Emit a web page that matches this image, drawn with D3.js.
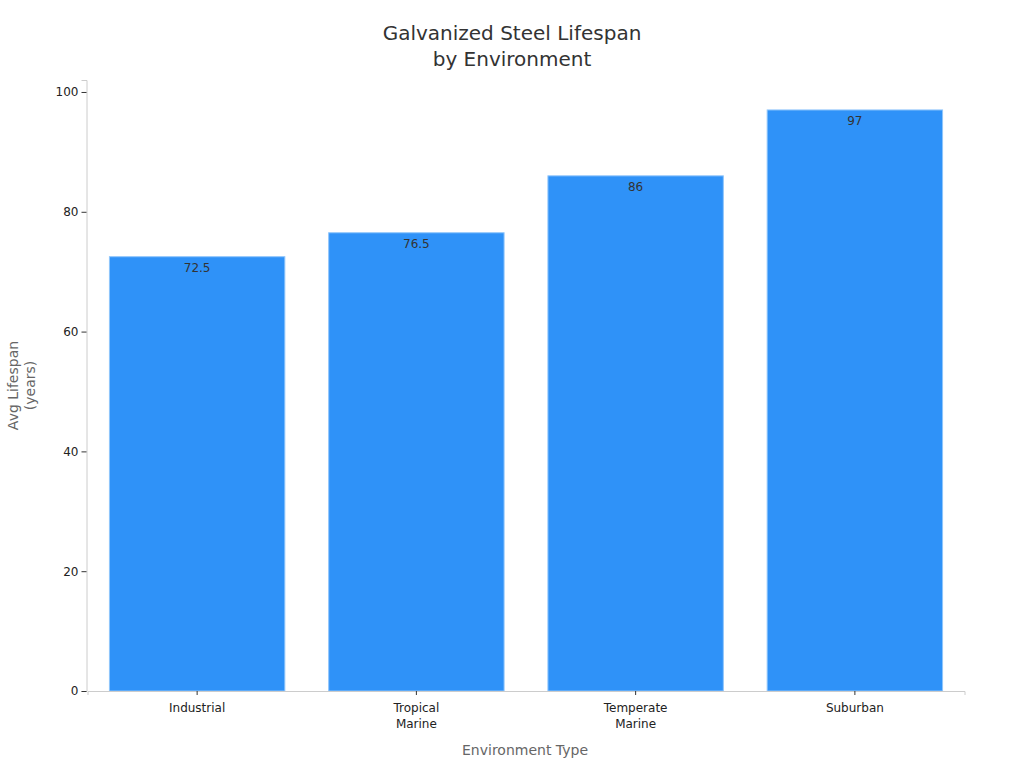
<!DOCTYPE html>
<html>
<head>
<meta charset="utf-8">
<script src="https://cdn.jsdelivr.net/npm/d3@7"></script>
<style>
  body { margin: 0; background: #fff; }
  text { font-family: "DejaVu Sans", sans-serif; }
</style>
</head>
<body>
<svg id="chart" width="1024" height="768"></svg>
<script>
// data
var categories = [["Industrial"], ["Tropical", "Marine"], ["Temperate", "Marine"], ["Suburban"]];
var lifespans = [72.5, 76.5, 86, 97];
var yTicks = [0, 20, 40, 60, 80, 100];

var svg = d3.select("#chart");
var margin = { left: 86.5, right: 60.5, top: 80, bottom: 77 };
var width = 1024, height = 768;

var x = d3.scaleBand()
    .domain(d3.range(categories.length))
    .range([margin.left, width - margin.right])
    .paddingInner(0.2)
    .paddingOuter(0.1);

var y = d3.scaleLinear()
    .domain([0, 102])
    .range([height - margin.bottom, margin.top]);

// title
svg.append("text")
    .attr("x", 512).attr("text-anchor", "middle")
    .attr("fill", "#333").style("font-size", "20px")
    .selectAll("tspan")
    .data(["Galvanized Steel Lifespan", "by Environment"])
    .enter().append("tspan")
    .attr("x", 512)
    .attr("y", function (d, i) { return 40 + i * 26; })
    .text(function (d) { return d; });

// bars
svg.append("g").selectAll("rect")
    .data(lifespans)
    .enter().append("rect")
    .attr("x", function (d, i) { return x(i) + 1; })
    .attr("width", x.bandwidth())
    .attr("y", function (d) { return y(d); })
    .attr("height", function (d) { return y(0) - y(d); })
    .attr("fill", "#2f92f8")
    .attr("stroke", "#8fc5fb")
    .attr("stroke-width", 1);

// value labels
svg.append("g").selectAll("text")
    .data(lifespans)
    .enter().append("text")
    .attr("x", function (d, i) { return x(i) + 1 + x.bandwidth() / 2; })
    .attr("y", function (d) { return y(d) + 15; })
    .attr("text-anchor", "middle")
    .attr("fill", "#333")
    .style("font-size", "12px")
    .text(function (d) { return d; });

// y axis
var yAxis = svg.append("g")
    .attr("transform", "translate(" + margin.left + ",0)")
    .call(d3.axisLeft(y).tickValues(yTicks).tickSize(5).tickPadding(3));
yAxis.select(".domain").attr("stroke", "#ccc");
yAxis.selectAll(".tick line").attr("stroke", "#333");
yAxis.selectAll(".tick text").attr("fill", "#222").style("font-size", "12px")
    .style("font-family", "'DejaVu Sans', sans-serif");

// x axis
var xAxis = svg.append("g")
    .attr("transform", "translate(1," + y(0) + ")")
    .call(d3.axisBottom(x).tickSize(4).tickFormat(""));
xAxis.select(".domain").attr("stroke", "#ccc");
xAxis.selectAll(".tick line").attr("stroke", "#333");
xAxis.selectAll(".tick").append("text")
    .attr("text-anchor", "middle")
    .attr("fill", "#222")
    .style("font-size", "12px")
    .selectAll("tspan")
    .data(function (d) { return categories[d]; })
    .enter().append("tspan")
    .attr("x", 0)
    .attr("y", function (d, i) { return 21 + i * 16; })
    .text(function (d) { return d; });

// axis titles
svg.append("text")
    .attr("x", (margin.left + width - margin.right) / 2)
    .attr("y", 755)
    .attr("text-anchor", "middle")
    .attr("fill", "#666")
    .style("font-size", "14px")
    .text("Environment Type");

svg.append("text")
    .attr("transform", "translate(0," + (margin.top + height - margin.bottom) / 2 + ") rotate(-90)")
    .attr("text-anchor", "middle")
    .attr("fill", "#666")
    .style("font-size", "14px")
    .selectAll("tspan")
    .data(["Avg Lifespan", "(years)"])
    .enter().append("tspan")
    .attr("x", 0)
    .attr("y", function (d, i) { return 18 + i * 17; })
    .text(function (d) { return d; });
</script>
</body>
</html>
